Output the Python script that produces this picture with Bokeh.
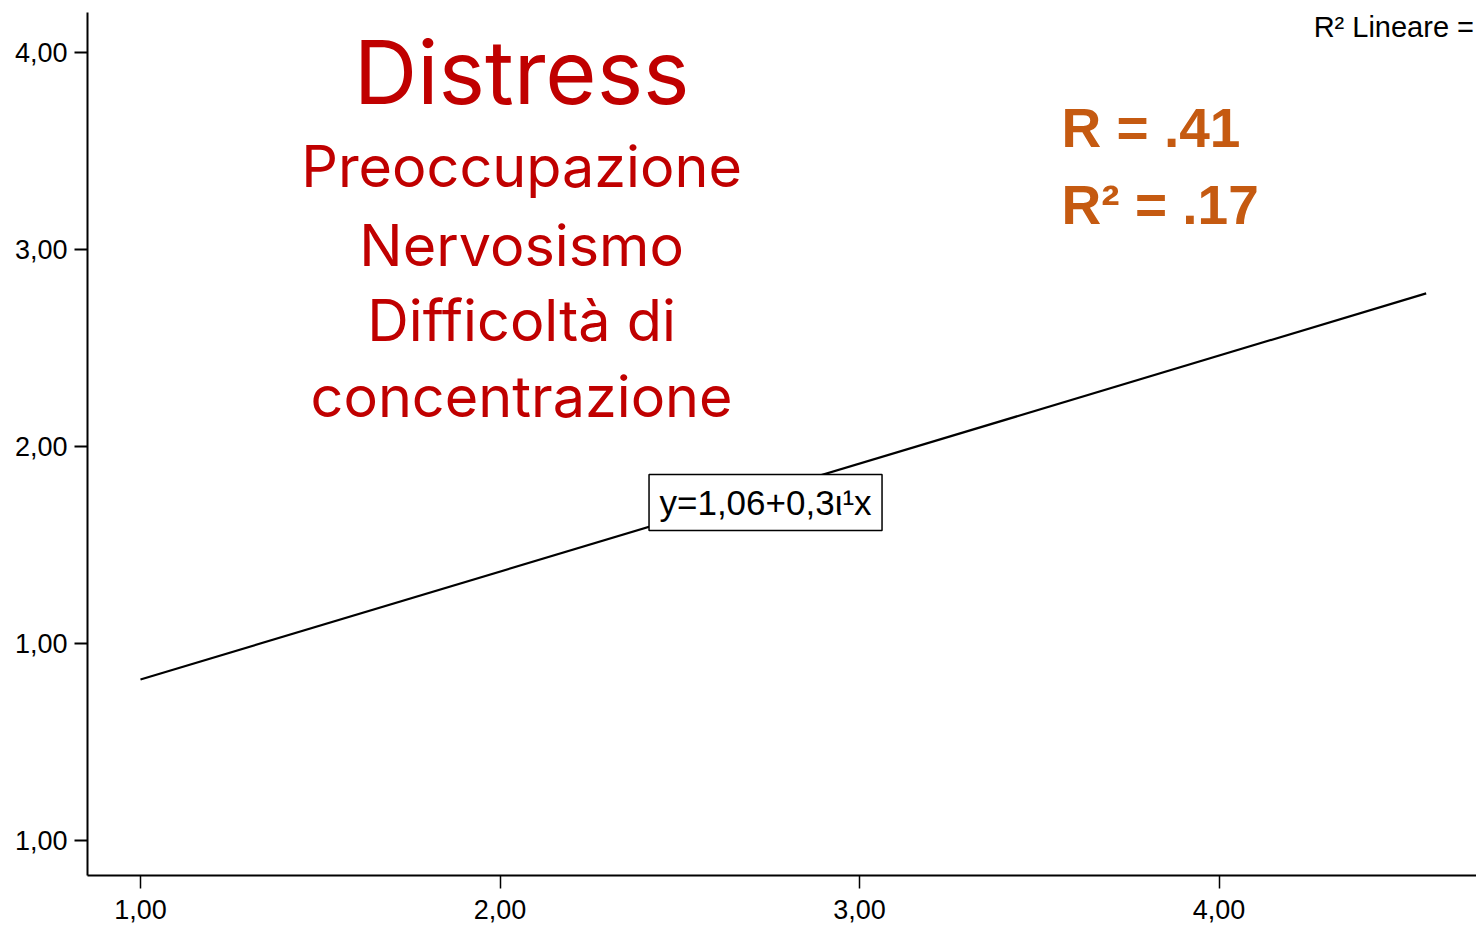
from bokeh.plotting import figure
from bokeh.models import Range1d, FixedTicker
from bokeh.core.properties import value
from bokeh.embed import file_html
from bokeh.resources import INLINE

# ---- data ----
x_ticks = [1, 2, 3, 4]
x_tick_labels = ["1,00", "2,00", "3,00", "4,00"]
y_ticks = [0, 1, 2, 3, 4]
y_tick_labels = ["1,00", "1,00", "2,00", "3,00", "4,00"]

fit_x = [1.00, 4.576]
fit_y = [0.817, 2.777]

title_main = "Distress"
title_lines = ["Preoccupazione", "Nervosismo", "Difficoltà di", "concentrazione"]
stats_lines = ["R = .41", "R² = .17"]
equation = "y=1,06+0,3ι¹x"
legend_text = "R² Lineare ="

RED = "#C00000"
ORANGE = "#C55A11"

p = figure(width=1476, height=926, output_backend="svg", toolbar_location=None,
           x_range=Range1d(0.8526, 4.716), y_range=Range1d(-0.1777, 4.203))
p.min_border_left = 87
p.min_border_top = 12
p.min_border_right = 0
p.min_border_bottom = 51
p.outline_line_color = None
p.background_fill_color = "white"
p.border_fill_color = "white"
p.xgrid.visible = False
p.ygrid.visible = False

# axes
p.xaxis.ticker = FixedTicker(ticks=x_ticks)
p.xaxis.major_label_overrides = {t: l for t, l in zip(x_ticks, x_tick_labels)}
p.yaxis.ticker = FixedTicker(ticks=y_ticks)
p.yaxis.major_label_overrides = {t: l for t, l in zip(y_ticks, y_tick_labels)}
for ax in (p.xaxis, p.yaxis):
    ax.axis_line_color = "black"
    ax.axis_line_width = 2
    ax.major_tick_line_color = "black"
    ax.major_tick_in = 0
    ax.major_tick_out = 13
    ax.minor_tick_line_color = None
    ax.major_label_text_font = "Liberation Sans"
    ax.major_label_text_color = "black"
p.xaxis.major_tick_line_width = 1.5
p.yaxis.major_tick_line_width = 2
p.xaxis.major_label_text_font_size = "27px"
p.yaxis.major_label_text_font_size = "27px"
p.xaxis.major_label_standoff = 11
p.yaxis.major_label_standoff = 7

# regression line
p.line(fit_x, fit_y, line_color="black", line_width=2.2)

# equation box
p.rect(x=[2.7385], y=[1.7157], width=233, height=56, width_units="screen",
       height_units="screen", fill_color="white", line_color="black", line_width=1.5)
p.text(x=[2.7385], y=[1.7157], text=[equation], text_align="center",
       text_baseline="middle", text_font=value("Liberation Sans"),
       text_font_size="35px", text_color="black")

# top-right legend text
p.text(x=[4.2630], y=[4.127], text=[legend_text], text_align="left",
       text_baseline="alphabetic", text_font=value("Liberation Sans"),
       text_font_size="29px", text_color="black")

# titles
p.text(x=[2.060], y=[3.903], text=[title_main], text_align="center",
       text_baseline="alphabetic", text_font=value("Inter"),
       text_font_size="88px", text_color=RED)
p.text(x=[2.060] * 4, y=[3.422, 3.021, 2.640, 2.254], text=title_lines,
       text_align="center", text_baseline="alphabetic", text_font=value("Inter"),
       text_font_size="57.5px", text_color=RED)

# statistics
p.text(x=[3.562, 3.562], y=[3.615, 3.224], text=stats_lines, text_align="left",
       text_baseline="alphabetic", text_font=value("Liberation Sans"),
       text_font_style="bold", text_font_size="55px", text_color=ORANGE)

open("out.html", "w").write(file_html(p, INLINE))
